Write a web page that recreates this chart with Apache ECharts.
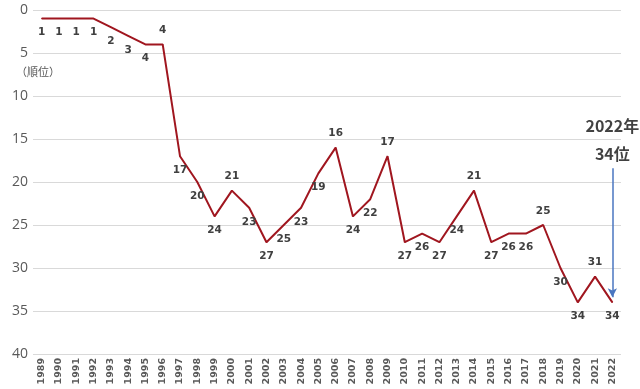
<!DOCTYPE html>
<html><head><meta charset="utf-8">
<script src="https://cdn.jsdelivr.net/npm/echarts@6/dist/echarts.min.js"></script>
<style>html,body{margin:0;padding:0;background:#fff}#c{width:640px;height:389px}</style>
</head><body><div id="c"></div>
<script>
const years = ['1989','1990','1991','1992','1993','1994','1995','1996','1997','1998','1999','2000','2001','2002','2003','2004','2005','2006','2007','2008','2009','2010','2011','2012','2013','2014','2015','2016','2017','2018','2019','2020','2021','2022'];
const ranks = [1,1,1,1,2,3,4,4,17,20,24,21,23,27,25,23,19,16,24,22,17,27,26,27,24,21,27,26,26,25,30,34,31,34];
const labelPos = ['bottom','bottom','bottom','bottom','bottom','bottom','bottom','top','bottom','bottom','bottom','top','bottom','bottom','bottom','bottom','bottom','top','bottom','bottom','top','bottom','bottom','bottom','bottom','top','bottom','bottom','bottom','top','bottom','bottom','top','bottom'];
const yTicks = {min:0, max:40, interval:5};
const annoYear = '2022';
const annoText1 = '2022年';
const annoText2 = '34位';
const annoFrom = 18.4, annoTo = 33.4;

const chart = echarts.init(document.getElementById('c'));
chart.setOption({
  animation:false,
  grid:{left:33,right:19,top:10,bottom:35},
  xAxis:{type:'category',data:years,boundaryGap:true,
    axisLine:{show:false},axisTick:{show:false},
    axisLabel:{rotate:90,fontSize:9.5,fontWeight:'bold',color:'#595959',fontFamily:'DejaVu Sans',margin:4,interval:0}},
  yAxis:{type:'value',inverse:true,min:yTicks.min,max:yTicks.max,interval:yTicks.interval,
    axisLabel:{fontSize:14,color:'#595959',fontFamily:'Open Sans',margin:5},
    splitLine:{lineStyle:{color:'#d9d9d9',width:1}}},
  graphic:[{type:'text',left:16,top:66,style:{text:'（順位）',fontSize:11,fill:'#595959',fontFamily:'Noto Sans CJK JP'}}],
  series:[{type:'line',data:ranks.map((v,i)=>({value:v,label:{show:true,position:labelPos[i]}})),
    symbol:'circle',symbolSize:1,showSymbol:true,lineStyle:{color:'#A0161F',width:2},itemStyle:{color:'#A0161F'},
    label:{show:true,fontSize:10.5,fontWeight:'bold',color:'#404040',fontFamily:'DejaVu Sans',distance:8},
    markLine:{silent:true,symbol:['none','arrow'],symbolSize:[7,9],
      lineStyle:{color:'#4A76C0',width:1.5,type:'solid'},
      label:{show:false},
      data:[[{coord:[annoYear,annoFrom]},{coord:[annoYear,annoTo]}]]}
  },
  {type:'scatter',data:[[annoYear,annoFrom]],symbolSize:0,silent:true,
   label:{show:true,position:'top',distance:7,formatter:annoText1+'\n\n'+annoText2,fontSize:16,fontWeight:'bold',color:'#111',lineHeight:14,fontFamily:'Noto Sans CJK JP',align:'center'}}]
});
</script></body></html>
